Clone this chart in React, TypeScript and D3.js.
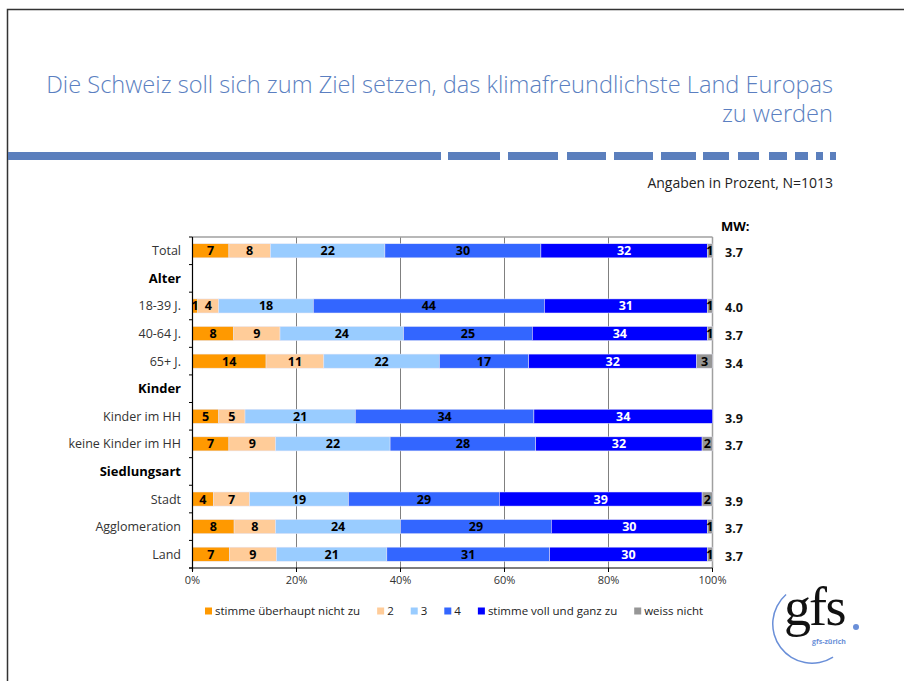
import { useEffect, useRef } from "react";
import * as d3 from "d3";

const titleLines = [
  "Die Schweiz soll sich zum Ziel setzen, das klimafreundlichste Land Europas",
  "zu werden",
];
const subtitle = "Angaben in Prozent, N=1013";

// all rows on the y axis, headers included
const rowLabels = [
  "Total",
  "Alter",
  "18-39 J.",
  "40-64 J.",
  "65+ J.",
  "Kinder",
  "Kinder im HH",
  "keine Kinder im HH",
  "Siedlungsart",
  "Stadt",
  "Agglomeration",
  "Land",
];
const headerRows = ["Alter", "Kinder", "Siedlungsart"];

const dataRows = [
  "Total",
  "18-39 J.",
  "40-64 J.",
  "65+ J.",
  "Kinder im HH",
  "keine Kinder im HH",
  "Stadt",
  "Agglomeration",
  "Land",
];
const notAtAll = [7, 1, 8, 14, 5, 7, 4, 8, 7];
const two = [8, 4, 9, 11, 5, 9, 7, 8, 9];
const three = [22, 18, 24, 22, 21, 22, 19, 24, 21];
const four = [30, 44, 25, 17, 34, 28, 29, 29, 31];
const fully = [32, 31, 34, 32, 34, 32, 39, 30, 30];
const dontKnow = [1, 1, 1, 3, 0, 2, 2, 1, 1];
const meanValues = [3.7, 4.0, 3.7, 3.4, 3.9, 3.7, 3.9, 3.7, 3.7];

const seriesNames = [
  "stimme überhaupt nicht zu",
  "2",
  "3",
  "4",
  "stimme voll und ganz zu",
  "weiss nicht",
];
const seriesColors = ["#ff9900", "#ffcc99", "#99ccff", "#3366ff", "#0000ff", "#969696"];
const xTicks = [0, 0.2, 0.4, 0.6, 0.8, 1];

const FONT = "'Open Sans', 'Noto Sans', sans-serif";

export default function App() {
  const ref = useRef<SVGSVGElement | null>(null);

  useEffect(() => {
    if (!ref.current) return;
    const W = 904;
    const H = 681;
    const svg = d3.select(ref.current);
    svg.selectAll("*").remove();
    svg.attr("width", W).attr("height", H).style("font-family", FONT);

    svg.append("rect").attr("width", W).attr("height", H).attr("fill", "#fff");

    // page frame
    svg
      .append("path")
      .attr("d", `M7.5,${H} V9.5 H${W}`)
      .attr("fill", "none")
      .attr("stroke", "#333")
      .attr("stroke-width", 1.5);

    // title
    svg
      .append("g")
      .selectAll("text")
      .data(titleLines)
      .join("text")
      .attr("x", 833)
      .attr("y", (d, i) => 93 + i * 29)
      .attr("text-anchor", "end")
      .attr("font-size", 23.6)
      .attr("font-weight", 300)
      .attr("fill", "#5b7fc1")
      .text((d) => d);

    // dashed rule under the title
    const dashes: [number, number][] = [
      [8, 441], [448, 500], [508, 558], [567, 606], [614, 653], [661, 696],
      [703, 729], [738, 759], [769, 787], [795, 808], [816, 823], [830, 836],
    ];
    svg
      .append("g")
      .selectAll("rect")
      .data(dashes)
      .join("rect")
      .attr("x", (d) => d[0])
      .attr("y", 152)
      .attr("width", (d) => d[1] - d[0])
      .attr("height", 8)
      .attr("fill", "#5b7fbd");

    svg
      .append("text")
      .attr("x", 833)
      .attr("y", 188)
      .attr("text-anchor", "end")
      .attr("font-size", 14)
      .attr("fill", "#222")
      .text(subtitle);

    // chart
    const x = d3.scaleLinear().domain([0, 1]).range([192.5, 712.5]);
    const y = d3
      .scaleBand<string>()
      .domain(rowLabels)
      .range([237, 568])
      .paddingInner(0.49)
      .paddingOuter(0.245);

    const table = dataRows.map((name, i) => ({
      name,
      s0: notAtAll[i],
      s1: two[i],
      s2: three[i],
      s3: four[i],
      s4: fully[i],
      s5: dontKnow[i],
    }));
    const keys = ["s0", "s1", "s2", "s3", "s4", "s5"];
    const stacked = d3.stack<any>().keys(keys).offset(d3.stackOffsetExpand)(table);

    const plot = svg.append("g");

    // gridlines
    plot
      .selectAll("line.grid")
      .data(xTicks.slice(1))
      .join("line")
      .attr("x1", (d) => x(d))
      .attr("x2", (d) => x(d))
      .attr("y1", 237)
      .attr("y2", 568)
      .attr("stroke", (d) => (d === 1 ? "#a0a0a0" : "#808080"))
      .attr("stroke-width", (d) => (d === 1 ? 1.5 : 1));
    plot
      .append("line")
      .attr("x1", x(0))
      .attr("x2", x(1))
      .attr("y1", 237)
      .attr("y2", 237)
      .attr("stroke", "#a0a0a0")
      .attr("stroke-width", 1.5);

    // bars
    const layers = plot
      .selectAll("g.layer")
      .data(stacked)
      .join("g")
      .attr("fill", (d, i) => seriesColors[i]);
    layers
      .selectAll("rect")
      .data((d) => d)
      .join("rect")
      .attr("x", (d) => x(d[0]))
      .attr("y", (d) => y(d.data.name)!)
      .attr("width", (d) => x(d[1]) - x(d[0]))
      .attr("height", y.bandwidth())
      .attr("stroke", "#e6e6f5")
      .attr("stroke-width", 0.5);

    // value labels
    stacked.forEach((layer, si) => {
      plot
        .append("g")
        .selectAll("text")
        .data(layer.filter((d) => d.data[keys[si]] > 0))
        .join("text")
        .attr("x", (d) => (x(d[0]) + x(d[1])) / 2)
        .attr("y", (d) => y(d.data.name)! + y.bandwidth() / 2)
        .attr("dy", "0.36em")
        .attr("text-anchor", "middle")
        .attr("font-size", 12.5)
        .attr("font-weight", "bold")
        .attr("fill", si === 4 ? "#fff" : "#000")
        .text((d) => d.data[keys[si]]);
    });

    // left axis with ticks on row boundaries
    plot
      .append("line")
      .attr("x1", x(0))
      .attr("x2", x(0))
      .attr("y1", 237)
      .attr("y2", 571)
      .attr("stroke", "#000")
      .attr("stroke-width", 1.2);
    const step = y.step();
    plot
      .selectAll("line.ytick")
      .data(d3.range(rowLabels.length + 1))
      .join("line")
      .attr("x1", x(0) - 3.5)
      .attr("x2", x(0))
      .attr("y1", (i) => 237 + i * step)
      .attr("y2", (i) => 237 + i * step)
      .attr("stroke", "#000");

    // bottom axis
    plot
      .append("line")
      .attr("x1", x(0) - 3.5)
      .attr("x2", x(1))
      .attr("y1", 568)
      .attr("y2", 568)
      .attr("stroke", "#000")
      .attr("stroke-width", 1.2);
    plot
      .selectAll("line.xtick")
      .data(xTicks)
      .join("line")
      .attr("x1", (d) => x(d))
      .attr("x2", (d) => x(d))
      .attr("y1", 568)
      .attr("y2", 572)
      .attr("stroke", "#000");
    plot
      .selectAll("text.xlab")
      .data(xTicks)
      .join("text")
      .attr("x", (d) => x(d))
      .attr("y", 584)
      .attr("text-anchor", "middle")
      .attr("font-size", 11)
      .attr("fill", "#333")
      .text((d) => d3.format(".0%")(d));

    // row labels
    plot
      .selectAll("text.rowlab")
      .data(rowLabels)
      .join("text")
      .attr("x", 181)
      .attr("y", (d) => y(d)! + y.bandwidth() / 2)
      .attr("dy", "0.36em")
      .attr("text-anchor", "end")
      .attr("font-size", (d) => (headerRows.includes(d) ? 13 : 12.5))
      .attr("font-weight", (d) => (headerRows.includes(d) ? "bold" : "normal"))
      .attr("fill", (d) => (headerRows.includes(d) ? "#000" : "#333"))
      .text((d) => d);

    // mean values
    svg
      .append("text")
      .attr("x", 721)
      .attr("y", 231)
      .attr("font-size", 13)
      .attr("font-weight", "bold")
      .text("MW:");
    svg
      .append("g")
      .selectAll("text")
      .data(dataRows)
      .join("text")
      .attr("x", 725)
      .attr("y", (d) => y(d)! + y.bandwidth() / 2 + 2)
      .attr("dy", "0.36em")
      .attr("font-size", 12.5)
      .attr("font-weight", "bold")
      .attr("fill", "#111")
      .text((d, i) => meanValues[i].toFixed(1));

    // legend, laid out from the measured text widths
    const legend = svg.append("g");
    let lx = 205;
    seriesNames.forEach((name, i) => {
      legend
        .append("rect")
        .attr("x", lx)
        .attr("y", 607.5)
        .attr("width", 7)
        .attr("height", 7)
        .attr("fill", seriesColors[i]);
      const t = legend
        .append("text")
        .attr("x", lx + 10)
        .attr("y", 615)
        .attr("font-size", 11.5)
        .attr("fill", "#222")
        .text(name);
      const w = (t.node() as SVGTextElement).getComputedTextLength();
      lx += 10 + w + 17;
    });

    // gfs logo
    const logo = svg.append("g");
    const arc = d3
      .arc()
      .innerRadius(38.5)
      .outerRadius(40)
      .startAngle(-Math.PI * 0.23)
      .endAngle(-Math.PI * 1.18);
    logo
      .append("path")
      .attr("transform", "translate(812,624)")
      .attr("d", arc({} as any) as string)
      .attr("fill", "#6a8fd8");
    const serif = "'Liberation Serif', 'DejaVu Serif', serif";
    logo
      .append("text")
      .attr("x", 784)
      .attr("y", 625)
      .attr("font-family", serif)
      .attr("font-size", 54)
      .attr("fill", "#111")
      .text("g");
    logo
      .append("text")
      .attr("x", 809)
      .attr("y", 625)
      .attr("font-family", serif)
      .attr("font-size", 54)
      .attr("letter-spacing", -1.5)
      .attr("fill", "#111")
      .text("fs");
    logo
      .append("circle")
      .attr("cx", 856)
      .attr("cy", 627)
      .attr("r", 3)
      .attr("fill", "#6a8fd8");
    logo
      .append("text")
      .attr("x", 812)
      .attr("y", 643.5)
      .attr("font-size", 7)
      .attr("font-weight", "bold")
      .attr("fill", "#6a8fd8")
      .text("gfs-zürich");
  }, []);

  return (
    <svg
      ref={ref}
      style={{ position: "absolute", left: 0, top: 0, display: "block" }}
    ></svg>
  );
}
